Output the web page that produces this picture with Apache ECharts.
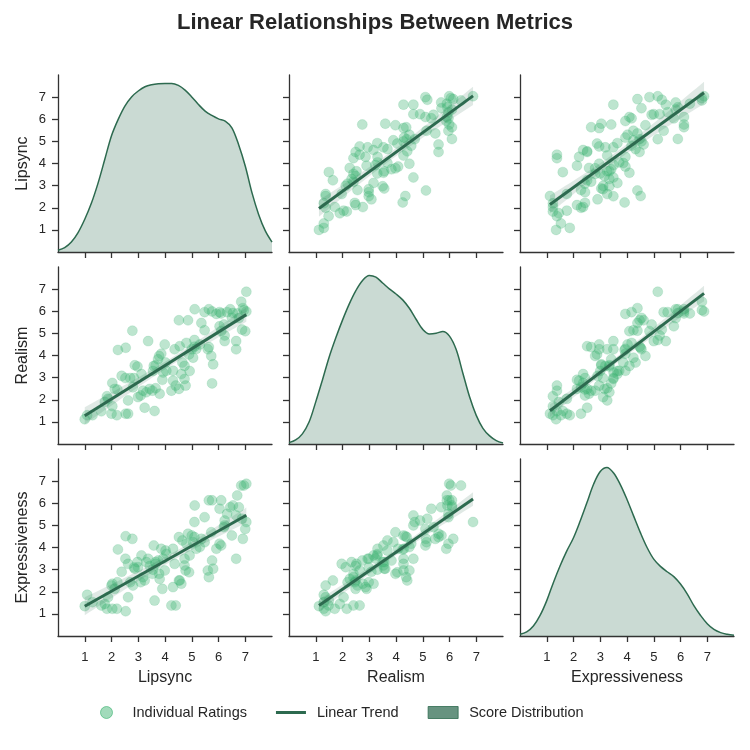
<!DOCTYPE html>
<html><head><meta charset="utf-8">
<script src="https://cdn.jsdelivr.net/npm/echarts@6/dist/echarts.min.js"></script>
<style>html,body{margin:0;padding:0;background:#fff}#c{width:750px;height:750px}</style>
</head><body><div id="c"></div>
<script>
const titleText = 'Linear Relationships Between Metrics';
const variables = ['Lipsync', 'Realism', 'Expressiveness'];
const legendNames = ['Individual Ratings', 'Linear Trend', 'Score Distribution'];
const tickValues = [1, 2, 3, 4, 5, 6, 7];

const lipsync = [1.0,1.09,1.29,1.62, 2.2,2.0,2.03,1.75,1.87,1.83,2.22,2.12,2.03,2.24, 2.53,2.62,2.62,2.8,2.52,2.7,2.84,2.38,2.87,2.53,2.78, 3.24,2.99,3.09,3.3,3.18,3.43,3.12,2.97,3.37, 3.61,3.8,3.53,3.65,3.9,3.93,3.55,4.05,3.58,3.65,4.02,3.74,3.78,3.86,3.99, 4.24,4.4,4.52,4.77,4.3,4.73,4.61,4.3,4.73,4.65,4.36,4.55,4.52, 4.92,5.05,4.9,5.0,5.17,5.1,5.3,4.8,5.1,5.36,4.86,5.11, 5.76,5.6,5.64,5.8,5.73,5.48,5.92,5.48,5.76,5.64, 6.23,6.23,6.1,6.04,6.2,6.1,6.04,6.32,6.44, 6.66,6.66,7.0,6.88,6.76,6.5,6.7,6.54,7.04,6.95,6.91,6.85,7.04];
const realism = [1.12,1.3,1.3,1.48, 1.3,1.37,1.71,1.9,2.04,2.16,2.46,2.49,2.76,4.25, 1.37,1.37,1.97,2.56,2.98,2.98,2.98,3.08,3.56,4.35,5.12, 1.64,2.12,2.19,2.34,2.41,2.49,3.16,3.5,4.65, 1.49,2.27,2.41,2.52,2.9,3.23,3.3,3.31,3.53,3.56,3.68,3.83,3.98,4.08,4.5, 2.41,2.64,2.49,2.64,2.86,2.94,3.16,3.31,3.53,3.68,4.28,4.42,5.59, 3.3,3.9,4.05,4.28,4.3,4.4,4.5,4.57,4.7,5.47,5.59,6.09, 2.74,4.28,4.38,3.6,3.98,5.14,5.88,5.96,5.99,6.09, 4.65,4.9,5.1,5.32,5.4,5.9,5.96,5.96,6.09, 4.28,4.65,5.1,5.17,5.69,5.7,5.9,5.92,5.99,6.05,6.14,6.43,6.88];
const expressiveness = [1.35,1.86,1.53,1.38, 1.23,2.28,1.23,1.45,1.75,1.23,2.43,2.13,2.36,3.91, 1.12,1.75,3.26,2.28,3.49,2.43,3.1,2.9,3.04,4.51,4.39, 2.51,3.11,2.43,3.34,2.66,3.16,3.64,3.34,3.49, 1.6,2.58,2.81,3.26,2.13,3.5,3.0,3.71,4.09,3.34,3.86,3.41,2.81,3.94,2.96, 1.38,1.38,2.51,2.96,2.21,3.49,2.36,3.94,3.19,4.32,3.26,2.51,4.47, 3.64,4.24,2.88,4.54,3.94,4.47,4.02,4.17,5.15,4.39,4.62,5.9, 3.41,2.96,2.66,3.04,4.69,4.24,3.94,5.37,6.13,6.13, 5.0,5.22,4.09,5.75,4.92,6.13,4.17,5.52,5.82, 3.49,5.45,4.84,5.3,5.82,4.54,6.35,5.9,6.88,6.8,4.39,6.8,5.15];

// density curves (relative to peak)
const kdeGrid = [0,0.25,0.5,0.75,1,1.25,1.5,1.75,2,2.25,2.5,2.75,3,3.25,3.5,3.75,4,4.25,4.5,4.75,5,5.25,5.5,5.75,6,6.25,6.5,6.75,7,7.25,7.5,7.75,8];
const kdeLipsync = [0.01,0.026,0.059,0.115,0.194,0.29,0.41,0.55,0.69,0.787,0.866,0.92,0.955,0.98,0.992,0.998,1.0,1.0,0.988,0.96,0.92,0.875,0.836,0.81,0.79,0.777,0.737,0.638,0.51,0.352,0.223,0.125,0.059];
const kdeRealism = [0.008,0.024,0.06,0.13,0.25,0.38,0.515,0.63,0.735,0.83,0.91,0.97,1.0,0.99,0.955,0.92,0.89,0.855,0.805,0.74,0.68,0.653,0.657,0.668,0.64,0.56,0.42,0.28,0.17,0.093,0.048,0.02,0.006];
const kdeExpressiveness = [0.01,0.024,0.059,0.122,0.21,0.318,0.417,0.505,0.583,0.682,0.79,0.9,0.976,1.0,0.967,0.898,0.81,0.711,0.613,0.525,0.456,0.413,0.381,0.352,0.308,0.25,0.18,0.122,0.073,0.039,0.02,0.01,0.004];

const dataByVar = [lipsync, realism, expressiveness];
const kdeByVar = [kdeLipsync, kdeRealism, kdeExpressiveness];

const FONT = 'Liberation Sans, Arial, Helvetica, sans-serif';
const AX = '#333333';
const TXT = '#262626';
const LINE = '#2d6a4f';
const POINT = 'rgba(60,179,113,0.42)';
const colLeft = [58, 289, 520], rowTop = [75, 267, 459], W = 214, H = 177;

function fit(xs, ys) {
  const n = xs.length;
  let mx = 0, my = 0;
  for (let i = 0; i < n; i++) { mx += xs[i]; my += ys[i]; }
  mx /= n; my /= n;
  let sxx = 0, sxy = 0;
  for (let i = 0; i < n; i++) { sxx += (xs[i]-mx)*(xs[i]-mx); sxy += (xs[i]-mx)*(ys[i]-my); }
  const b = sxy / sxx, a = my - b * mx;
  let ss = 0;
  for (let i = 0; i < n; i++) { const e = ys[i] - a - b * xs[i]; ss += e * e; }
  return { a, b, s: Math.sqrt(ss / (n - 2)), mx, sxx, n };
}

const grids = [], xAxes = [], yAxes = [], series = [];
for (let r = 0; r < 3; r++) {
  for (let c = 0; c < 3; c++) {
    const g = r * 3 + c;
    grids.push({ left: colLeft[c], top: rowTop[r], width: W, height: H, containLabel: false });
    xAxes.push({
      type: 'value', gridIndex: g, min: 0, max: 8, interval: 1,
      axisLine: { show: true, onZero: false, lineStyle: { color: AX, width: 1.3 } },
      axisTick: { show: true, customValues: tickValues, length: 6, lineStyle: { color: AX, width: 1.3 } },
      axisLabel: { show: r === 2, customValues: tickValues, margin: 15, color: TXT, fontSize: 13, fontFamily: FONT },
      splitLine: { show: false },
      name: r === 2 ? variables[c] : '', nameLocation: 'middle', nameGap: 34,
      nameTextStyle: { color: TXT, fontSize: 16, fontFamily: FONT }
    });
    yAxes.push({
      type: 'value', gridIndex: g, min: 0, max: 8, interval: 1,
      axisLine: { show: true, onZero: false, lineStyle: { color: AX, width: 1.3 } },
      axisTick: { show: true, customValues: tickValues, length: 6, lineStyle: { color: AX, width: 1.3 } },
      axisLabel: { show: c === 0, customValues: tickValues, margin: 12, color: TXT, fontSize: 13, fontFamily: FONT },
      splitLine: { show: false },
      name: c === 0 ? variables[r] : '', nameLocation: 'middle', nameGap: 27,
      nameTextStyle: { color: TXT, fontSize: 16, fontFamily: FONT }
    });
  }
}
// hidden density axes for diagonal panels
for (let k = 0; k < 3; k++) {
  yAxes.push({ type: 'value', gridIndex: k * 4, min: 0, max: 1.05, show: false });
}

for (let r = 0; r < 3; r++) {
  for (let c = 0; c < 3; c++) {
    const g = r * 3 + c;
    if (r === c) {
      const kde = kdeByVar[r];
      series.push({
        type: 'line', name: legendNames[2], xAxisIndex: g, yAxisIndex: 9 + r,
        data: kdeGrid.map((x, i) => [x, kde[i]]), smooth: 0.35, symbol: 'none',
        lineStyle: { color: LINE, width: 1.5 }, itemStyle: { color: LINE },
        areaStyle: { color: 'rgba(45,106,79,0.25)', opacity: 1 }, z: 2, silent: true
      });
      continue;
    }
    const xs = dataByVar[c], ys = dataByVar[r];
    series.push({
      type: 'scatter', name: legendNames[0], xAxisIndex: g, yAxisIndex: g,
      data: xs.map((x, i) => [x, ys[i]]), symbolSize: 10,
      itemStyle: { color: POINT, borderColor: 'rgba(60,179,113,0.25)', borderWidth: 0.8 }, z: 2
    });
    const f = fit(xs, ys);
    const xmin = Math.min(...xs), xmax = Math.max(...xs);
    const tval = 1.983;
    const upper = [], lower = [];
    const steps = 40;
    for (let i = 0; i <= steps; i++) {
      const x = xmin + (xmax - xmin) * i / steps;
      const yh = f.a + f.b * x;
      const se = f.s * Math.sqrt(1 / f.n + (x - f.mx) * (x - f.mx) / f.sxx);
      upper.push([x, yh + tval * se]);
      lower.push([x, yh - tval * se]);
    }
    series.push({
      type: 'custom', name: 'ci' + g, xAxisIndex: g, yAxisIndex: g, silent: true, z: 3,
      data: [[xmin, f.a + f.b * xmin]],
      renderItem: function (params, api) {
        const pts = upper.map(p => api.coord(p)).concat(lower.slice().reverse().map(p => api.coord(p)));
        return { type: 'polygon', shape: { points: pts }, style: { fill: 'rgba(45,106,79,0.15)' } };
      }
    });
    series.push({
      type: 'line', name: legendNames[1], xAxisIndex: g, yAxisIndex: g,
      data: [[xmin, f.a + f.b * xmin], [xmax, f.a + f.b * xmax]], symbol: 'none',
      lineStyle: { color: LINE, width: 3 }, itemStyle: { color: LINE }, z: 4, silent: true
    });
  }
}

const chart = echarts.init(document.getElementById('c'), null, { renderer: 'canvas' });
chart.setOption({
  animation: false,
  backgroundColor: '#ffffff',
  title: { text: titleText, left: 'center', top: 7, textStyle: { fontSize: 22, fontWeight: 'bold', color: TXT, fontFamily: FONT } },
  grid: grids, xAxis: xAxes, yAxis: yAxes,
  legend: {
    left: 95, top: 700, itemWidth: 30, itemHeight: 12, itemGap: 29,
    textStyle: { fontSize: 14.5, color: TXT, fontFamily: FONT, padding: [0, 0, 0, 6] },
    data: [
      { name: legendNames[0], icon: 'circle', itemStyle: { color: 'rgba(60,179,113,0.6)', borderColor: 'rgba(60,179,113,0.8)', borderWidth: 1 } },
      { name: legendNames[1], icon: 'path://M0,0 L30,0 L30,3 L0,3 Z', itemStyle: { color: LINE, borderWidth: 0 } },
      { name: legendNames[2], icon: 'rect', itemStyle: { color: 'rgba(45,106,79,0.72)', borderColor: 'rgba(45,106,79,0.8)', borderWidth: 1 } }
    ],
    selectedMode: false
  },
  series: series
});
</script>
</body></html>
